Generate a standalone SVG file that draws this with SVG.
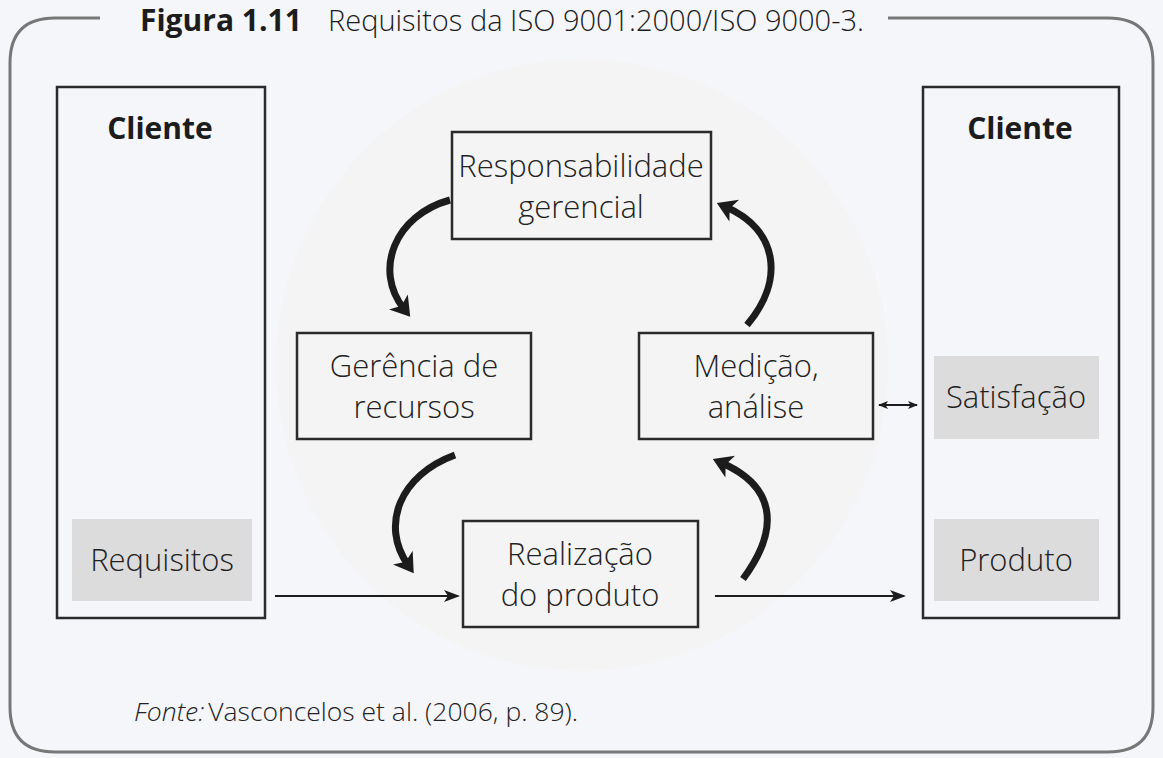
<svg xmlns="http://www.w3.org/2000/svg" width="1163" height="758" viewBox="0 0 1163 758">
<style>
.t{font-family:"Open Sans","Liberation Sans",sans-serif;font-weight:300;fill:#222;text-anchor:middle;font-size:31px}
.b{font-weight:700;font-size:30px;fill:#1c1c1c}
.node{fill:none;stroke:#2a2a2a;stroke-width:2.5}
.col{fill:none;stroke:#2a2a2a;stroke-width:2.5}
.tag{fill:#dcdcdc}
.big{fill:none;stroke:#1c1c1c;stroke-width:7}
.thin{fill:none;stroke:#1c1c1c;stroke-width:2}
</style>
<defs>
<marker id="bh" markerWidth="8" markerHeight="8" refX="4" refY="4" orient="auto" markerUnits="userSpaceOnUse" viewBox="0 0 8 8" overflow="visible">
<path d="M-5,-8 L14,4 L-5,16 L0,4 Z" fill="#1c1c1c"/>
</marker>
<marker id="sh" markerWidth="16" markerHeight="12" refX="14" refY="6" orient="auto-start-reverse" markerUnits="userSpaceOnUse">
<path d="M0,0 L16,6 L0,12 L4,6 Z" fill="#1c1c1c"/>
</marker>
<marker id="xh" markerWidth="10" markerHeight="8" refX="9" refY="4" orient="auto-start-reverse" markerUnits="userSpaceOnUse">
<path d="M0,0 L10,4 L0,8 L2.5,4 Z" fill="#1c1c1c"/>
</marker>
</defs>
<rect width="1163" height="758" fill="#f5f6fa"/>
<circle cx="582" cy="365" r="306" fill="#f4f4f4"/>
<path d="M100,18 H55 Q10,18 10,63 V707 Q10,752 55,752 H1108 Q1153,752 1153,707 V63 Q1153,18 1108,18 H888" fill="none" stroke="#777" stroke-width="3"/>
<text x="140" y="31" font-family="'Open Sans','Liberation Sans',sans-serif" fill="#1c1c1c"><tspan font-weight="bold" font-size="30">Figura 1.11</tspan><tspan x="328" font-weight="300" font-size="29">Requisitos da ISO 9001:2000/ISO 9000-3.</tspan></text>
<g id="cliente-esq">
<rect class="col" x="57" y="87" width="208" height="531"/>
<text class="t b" x="160" y="139">Cliente</text>
</g>
<g id="requisitos">
<rect class="tag" x="72" y="519" width="180" height="82"/>
<text class="t" x="162" y="571">Requisitos</text>
</g>
<g id="cliente-dir">
<rect class="col" x="923" y="87" width="196" height="531"/>
<text class="t b" x="1020" y="139">Cliente</text>
</g>
<g id="satisfacao">
<rect class="tag" x="934" y="356" width="165" height="83"/>
<text class="t" x="1016" y="408">Satisfação</text>
</g>
<g id="produto">
<rect class="tag" x="934" y="519" width="165" height="82"/>
<text class="t" x="1016" y="571">Produto</text>
</g>
<g id="responsabilidade">
<rect class="node" x="452" y="132" width="259" height="107"/>
<text class="t" x="581" y="177">Responsabilidade</text>
<text class="t" x="581" y="218">gerencial</text>
</g>
<g id="gerencia">
<rect class="node" x="297" y="333" width="234" height="106"/>
<text class="t" x="414" y="377">Gerência de</text>
<text class="t" x="414" y="418">recursos</text>
</g>
<g id="medicao">
<rect class="node" x="639" y="333" width="234" height="106"/>
<text class="t" x="756" y="377">Medição,</text>
<text class="t" x="756" y="418">análise</text>
</g>
<g id="realizacao">
<rect class="node" x="463" y="521" width="235" height="106"/>
<text class="t" x="580" y="565">Realização</text>
<text class="t" x="580" y="606">do produto</text>
</g>
<g id="connectors">
<path class="big" d="M450,200 C395,215 373,270 404,309" marker-end="url(#bh)"/>
<path class="big" d="M455,455 C400,475 380,525 408,565" marker-end="url(#bh)"/>
<path class="big" d="M743,579 C783,525 772,485 722,463" marker-end="url(#bh)"/>
<path class="big" d="M747,325 C785,280 778,230 726,207" marker-end="url(#bh)"/>
<path class="thin" d="M275,596 H458" marker-end="url(#sh)"/>
<path class="thin" d="M715,596 H904" marker-end="url(#sh)"/>
<path class="thin" d="M879,405 H917" marker-start="url(#xh)" marker-end="url(#xh)"/>
</g>
<text x="134" y="721" font-family="'Open Sans','Liberation Sans',sans-serif" font-size="26.5" font-weight="300" fill="#222"><tspan font-style="italic">Fonte:</tspan><tspan dx="4">Vasconcelos et al. (2006, p. 89).</tspan></text>
</svg>
